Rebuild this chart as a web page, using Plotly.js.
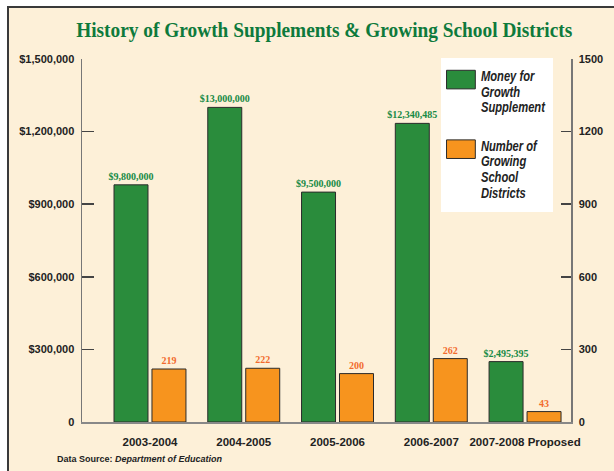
<!DOCTYPE html>
<html>
<head>
<meta charset="utf-8">
<script src="https://cdn.plot.ly/plotly-3.0.1.min.js"></script>
<style>
  html, body { margin: 0; padding: 0; background: #ffffff; overflow: hidden; width: 614px; height: 471px; }
  #frame { position: absolute; left: 7px; top: 6px; width: 700px; height: 600px;
           border-left: 2px solid #3a3a3a; border-top: 2px solid #3a3a3a; background: #fdf0d8; }
  #chart { position: absolute; left: 0; top: 0; width: 614px; height: 471px; }
</style>
</head>
<body>
<div id="frame"></div>
<div id="chart"></div>
<script>
// ---- data ----
const schoolYears = ['2003-2004', '2004-2005', '2005-2006', '2006-2007', '2007-2008 Proposed'];
const moneyValues = [980000, 1300000, 950000, 1234048.5, 249539.5];
const moneyLabels = ['$9,800,000', '$13,000,000', '$9,500,000', '$12,340,485', '$2,495,395'];
const districtCounts = [219, 222, 200, 262, 43];
const leftTickVals = [0, 300000, 600000, 900000, 1200000, 1500000];
const leftTickText = ['0', '$300,000', '$600,000', '$900,000', '$1,200,000', '$1,500,000'];
const rightTickVals = [0, 300, 600, 900, 1200, 1500];
const rightTickText = ['0', '300', '600', '900', '1200', '1500'];
const dividerPositions = [0.45, 1.45, 2.45, 3.45];

const sans = 'Liberation Sans, Arial, sans-serif';
const serif = 'Liberation Serif, Times New Roman, serif';
const xRange = [-0.725, 4.49];

const traces = [
  {
    type: 'bar', name: 'Money for<br>Growth<br>Supplement', legendgroup: 'a',
    x: schoolYears, y: moneyValues, yaxis: 'y', offsetgroup: 'money',
    text: moneyLabels, textposition: 'outside', cliponaxis: false, constraintext: 'none',
    textfont: { family: serif, size: 10, weight: 'bold', color: '#178a45' },
    marker: { color: '#2a8c3c', line: { color: '#2b2b2b', width: 1 } },
    hoverinfo: 'skip'
  },
  {
    type: 'bar', name: 'Number of<br>Growing<br>School<br>Districts', legendgroup: 'b',
    x: schoolYears, y: districtCounts, yaxis: 'y2', offsetgroup: 'districts',
    text: districtCounts.map(String), textposition: 'outside', cliponaxis: false, constraintext: 'none',
    textfont: { family: serif, size: 10, weight: 'bold', color: '#f26b2d' },
    marker: { color: '#f7941e', line: { color: '#2b2b2b', width: 1 } },
    hoverinfo: 'skip'
  }
];

const layout = {
  width: 614, height: 471,
  margin: { l: 82, r: 43, t: 59, b: 49 },
  paper_bgcolor: 'rgba(0,0,0,0)', plot_bgcolor: 'rgba(0,0,0,0)',
  barmode: 'group', bargap: 0.19, bargroupgap: 0.105,
  title: {
    text: 'History of Growth Supplements & Growing School Districts',
    font: { family: serif, size: 21, weight: 'bold', color: '#0e7a3c' },
    xref: 'container', x: 0.528, xanchor: 'center',
    yref: 'container', y: 0.938, yanchor: 'middle'
  },
  xaxis: {
    type: 'category', range: xRange, showline: true, linecolor: '#888', linewidth: 1.5,
    ticks: '', showgrid: false, zeroline: false, ticklabelstandoff: 9,
    tickfont: { family: sans, size: 11.5, weight: 'bold', color: '#222' }
  },
  xaxis2: {
    overlaying: 'x', anchor: 'y', type: 'linear', range: xRange,
    tickmode: 'array', tickvals: dividerPositions, ticks: 'inside', ticklen: 9,
    tickcolor: '#333', tickwidth: 1.2, showticklabels: false, showline: false,
    showgrid: false, zeroline: false
  },
  yaxis: {
    range: [0, 1500000], tickmode: 'array', tickvals: leftTickVals, ticktext: leftTickText,
    ticks: 'inside', ticklen: 12, tickcolor: '#444', tickwidth: 1.5,
    showline: true, linecolor: '#777', linewidth: 1.5, showgrid: false, zeroline: false,
    ticklabelstandoff: 4,
    tickfont: { family: sans, size: 11, weight: 'bold', color: '#222' }
  },
  yaxis2: {
    overlaying: 'y', side: 'right', range: [0, 1500], tickmode: 'array',
    tickvals: rightTickVals, ticktext: rightTickText,
    ticks: 'inside', ticklen: 10, tickcolor: '#444', tickwidth: 1.5,
    showline: true, linecolor: '#777', linewidth: 1.5, showgrid: false, zeroline: false,
    ticklabelstandoff: 4,
    tickfont: { family: sans, size: 11, weight: 'bold', color: '#222' }
  },
  showlegend: true,
  legend: {
    x: 0.734, y: 1.0028, xanchor: 'left', yanchor: 'top',
    bgcolor: '#ffffff', borderwidth: 0, valign: 'top', tracegroupgap: 12,
    traceorder: 'grouped',
    font: { family: sans, size: 14, style: 'italic', weight: 'bold', color: '#222' }
  },
  annotations: [{
    text: '<b>Data Source: <i>Department of Education</i></b>',
    xref: 'paper', yref: 'paper', x: -0.0552, y: -0.102,
    xanchor: 'left', yanchor: 'middle', showarrow: false,
    font: { family: sans, size: 9, color: '#222' }
  }]
};

Plotly.newPlot('chart', traces, layout, { staticPlot: true, displayModeBar: false }).then(function (gd) {
  const t = gd.querySelector('.gtitle');
  if (t) {
    t.setAttribute('textLength', '496');
    t.setAttribute('lengthAdjust', 'spacingAndGlyphs');
  }
  gd.querySelectorAll('.legend .legendpoints path').forEach(function (p) {
    const tr = p.getAttribute('transform') || '';
    p.setAttribute('transform', 'translate(0,6) ' + tr + ' scale(2.4,1.55)');
    p.style.vectorEffect = 'non-scaling-stroke';
  });
  // condense legend text (narrow face not installed) and tighten leading
  gd.querySelectorAll('.legend text.legendtext').forEach(function (tx) {
    const x0 = parseFloat(tx.getAttribute('x') || '40');
    const k = 0.8;
    tx.setAttribute('transform', 'translate(' + (x0 * (1 - k)) + ',2) scale(' + k + ',1)');
    tx.querySelectorAll('tspan.line').forEach(function (ts, i) {
      const dy = ts.getAttribute('dy');
      if (i > 0 && dy && /em$/.test(dy)) {
        const v = parseFloat(dy);
        if (v > 0) ts.setAttribute('dy', (v * 1.12 / 1.3) + 'em');
      }
    });
  });
  const bg = gd.querySelector('.legend rect.bg');
  if (bg) { bg.setAttribute('width', '112'); bg.setAttribute('height', '154'); }
});
</script>
</body>
</html>
